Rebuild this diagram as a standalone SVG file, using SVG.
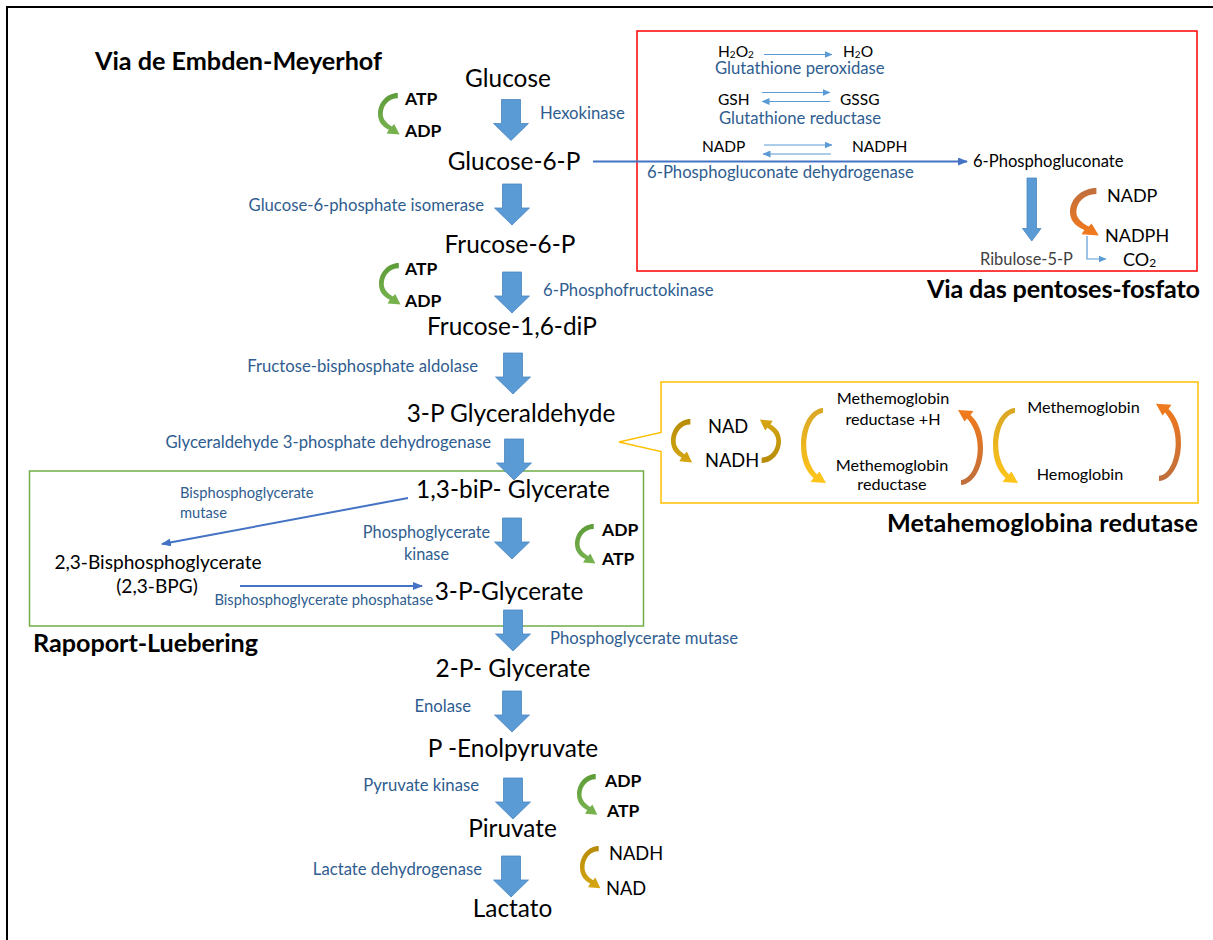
<svg xmlns="http://www.w3.org/2000/svg" width="1213" height="940" viewBox="0 0 1213 940">
<style>
text{font-family:Lato,"Liberation Sans",sans-serif}
.m{font-size:24.4px;fill:#000;text-anchor:middle}
.e{font-size:16.7px;fill:#2F5D90}
.b{font-size:17.5px;font-weight:bold;fill:#000}
.t{font-size:25.2px;font-weight:bold;fill:#000}
.s{font-size:15.5px;fill:#000}
.c{text-anchor:middle}
.blk{fill:#5B9BD5;stroke:#4A86C0;stroke-width:0.8}
.ln{stroke:#4472C4;stroke-width:2;fill:none}
.thin{stroke:#5B9BD5;stroke-width:1.2;fill:none}
</style>
<defs>
<path id="blk" d="M-9.5,0H9.5V24H17.5L0,41L-17.5,24H-9.5Z"/>
<path id="arcS" d="M22,0C10,0 0,9 0,20C0,27 4.5,32 12,35L9.5,38.5L24,39.5L18,29.5L15.5,32C9.5,29 5.3,25 5.3,20C5.3,12 12,5 22,5Z"/>
<path id="arcT" d="M22,0C9,1 0,18 0,37C0,53 5,63 12.5,70L9.5,74L25,75L18.5,63.5L16,66.5C10,60 5.3,50 5.3,37C5.3,21 12,6 22,5Z"/>
<linearGradient id="gG" x1="0" y1="0" x2="0" y2="1"><stop offset="0" stop-color="#5E9C3A"/><stop offset="1" stop-color="#78B34E"/></linearGradient>
<linearGradient id="gD" x1="0" y1="0" x2="0" y2="1"><stop offset="0" stop-color="#B68B08"/><stop offset="1" stop-color="#D6A612"/></linearGradient>
<linearGradient id="gY" x1="0" y1="0" x2="0" y2="1"><stop offset="0" stop-color="#D9A625"/><stop offset="1" stop-color="#FFC61A"/></linearGradient>
<linearGradient id="gO" x1="0" y1="0" x2="0" y2="1"><stop offset="0" stop-color="#BF6E3C"/><stop offset="1" stop-color="#F27A1C"/></linearGradient>
<marker id="mA" markerWidth="10" markerHeight="8" refX="9" refY="4" orient="auto" markerUnits="userSpaceOnUse"><path d="M0,0L10,4L0,8Z" fill="#4472C4"/></marker>
<marker id="mT" markerWidth="8" markerHeight="7" refX="7.5" refY="3.5" orient="auto" markerUnits="userSpaceOnUse"><path d="M0,0L8,3.5L0,7Z" fill="#5B9BD5"/></marker>
</defs>
<rect width="1213" height="940" fill="#fff"/>
<path d="M7,940V7H1213" fill="none" stroke="#000" stroke-width="2"/>

<g id="boxes">
<rect x="637" y="31" width="560" height="240" fill="none" stroke="#FF0000" stroke-width="1.5"/>
<rect x="29.5" y="471" width="614" height="155" fill="none" stroke="#70AD47" stroke-width="1.5"/>
<path d="M661,382H1198V503H661V451.5L619,442L661,432.5Z" fill="none" stroke="#FFC000" stroke-width="1.5"/>
</g>

<g id="connectors">
<use href="#blk" class="blk" x="511" y="99.5"/>
<use href="#blk" class="blk" x="512" y="184"/>
<use href="#blk" class="blk" x="512" y="272"/>
<use href="#blk" class="blk" x="513" y="353"/>
<use href="#blk" class="blk" x="514" y="439"/>
<use href="#blk" class="blk" x="512" y="518"/>
<use href="#blk" class="blk" x="513" y="610"/>
<use href="#blk" class="blk" x="512" y="691"/>
<use href="#blk" class="blk" x="513" y="778"/>
<use href="#blk" class="blk" x="511" y="856"/>
<path class="blk" d="M1027,178H1036.5V228.5H1041L1031.75,241L1022.5,228.5H1027Z"/>
<line class="ln" x1="593" y1="161.5" x2="967" y2="161.5" marker-end="url(#mA)"/>
<line class="ln" x1="408" y1="498" x2="162" y2="544" marker-end="url(#mA)"/>
<line class="ln" x1="240" y1="586" x2="422" y2="586" marker-end="url(#mA)"/>
<line class="thin" x1="764" y1="54.5" x2="832" y2="54.5" marker-end="url(#mT)"/>
<line class="thin" x1="762" y1="92.5" x2="830" y2="92.5" marker-end="url(#mT)"/>
<line class="thin" x1="830" y1="101.5" x2="762" y2="101.5" marker-end="url(#mT)"/>
<line class="thin" x1="764" y1="145" x2="832" y2="145" marker-end="url(#mT)"/>
<line class="thin" x1="831" y1="154" x2="763" y2="154" marker-end="url(#mT)"/>
<polyline class="thin" points="1087,236 1087,259 1106,259" marker-end="url(#mT)"/>
<use href="#arcS" fill="url(#gG)" transform="translate(378,93) scale(0.9,1.05)"/>
<use href="#arcS" fill="url(#gG)" transform="translate(379,263) scale(0.9,1.05)"/>
<use href="#arcS" fill="url(#gG)" transform="translate(575,524) scale(0.85,1)"/>
<use href="#arcS" fill="url(#gG)" transform="translate(577,774) scale(0.85,1.03)"/>
<use href="#arcS" fill="url(#gD)" transform="translate(580,846) scale(0.85,1.07)"/>
<use href="#arcS" fill="url(#gD)" transform="translate(671,419) scale(0.88,1.1)"/>
<use href="#arcS" fill="url(#gD)" transform="translate(781,463) rotate(180) scale(0.88,1.1)"/>
<use href="#arcT" fill="url(#gY)" transform="translate(801,408)"/>
<use href="#arcT" fill="url(#gO)" transform="translate(983,485) rotate(180)"/>
<use href="#arcT" fill="url(#gY)" transform="translate(993,408)"/>
<use href="#arcT" fill="url(#gO)" transform="translate(1181,481) rotate(180) scale(1,1.03)"/>
<use href="#arcS" fill="url(#gO)" transform="translate(1070,188) scale(1.2,1.2)"/>
</g>

<g id="titles">
<text class="t" x="95" y="70" textLength="287">Via de Embden-Meyerhof</text>
<text class="t" x="927" y="298" textLength="273">Via das pentoses-fosfato</text>
<text class="t" x="33" y="652" textLength="225">Rapoport-Luebering</text>
<text class="t" x="887" y="532" textLength="311">Metahemoglobina redutase</text>
</g>

<g id="n-glucose"><text class="m" x="508" y="87">Glucose</text></g>
<g id="n-atp1"><text class="b" x="405" y="105">ATP</text><text class="b" x="405" y="137">ADP</text></g>
<g id="e-hexokinase"><text class="e" x="540" y="119">Hexokinase</text></g>
<g id="n-g6p"><text class="m" x="514" y="170">Glucose-6-P</text></g>
<g id="e-gpi"><text class="e" x="484" y="211" text-anchor="end">Glucose-6-phosphate isomerase</text></g>
<g id="n-f6p"><text class="m" x="510" y="253">Frucose-6-P</text></g>
<g id="n-atp2"><text class="b" x="405" y="275">ATP</text><text class="b" x="405" y="307">ADP</text></g>
<g id="e-pfk"><text class="e" x="543" y="296">6-Phosphofructokinase</text></g>
<g id="n-f16"><text class="m" x="512" y="335">Frucose-1,6-diP</text></g>
<g id="e-aldolase"><text class="e" x="478" y="372" text-anchor="end">Fructose-bisphosphate aldolase</text></g>
<g id="n-g3p"><text class="m" x="511" y="422">3-P Glyceraldehyde</text></g>
<g id="e-gapdh"><text class="e" x="491" y="448" text-anchor="end">Glyceraldehyde 3-phosphate dehydrogenase</text></g>
<g id="n-13bpg"><text class="m" x="513" y="498">1,3-biP- Glycerate</text></g>
<g id="e-bpgm"><text class="e" x="180" y="498" style="font-size:14.7px">Bisphosphoglycerate</text><text class="e" x="180" y="518" style="font-size:14.7px">mutase</text></g>
<g id="e-pgk"><text class="e c" x="426.5" y="538" style="font-size:16.3px">Phosphoglycerate</text><text class="e c" x="426.5" y="560" style="font-size:16.3px">kinase</text></g>
<g id="n-adp3"><text class="b" x="602" y="536">ADP</text><text class="b" x="602" y="565">ATP</text></g>
<g id="n-23bpg"><text class="c" x="158" y="569" style="font-size:19.1px">2,3-Bisphosphoglycerate</text><text class="c" x="157" y="593" style="font-size:19.1px">(2,3-BPG)</text></g>
<g id="e-bpgp"><text class="e" x="214.5" y="605" style="font-size:14.7px">Bisphosphoglycerate phosphatase</text></g>
<g id="n-3pg"><text class="m" x="509" y="600">3-P-Glycerate</text></g>
<g id="e-pgm"><text class="e" x="550" y="644">Phosphoglycerate mutase</text></g>
<g id="n-2pg"><text class="m" x="513" y="677">2-P- Glycerate</text></g>
<g id="e-enolase"><text class="e" x="471" y="712" text-anchor="end">Enolase</text></g>
<g id="n-pep"><text class="m" x="513" y="757">P -Enolpyruvate</text></g>
<g id="e-pk"><text class="e" x="479" y="791" text-anchor="end">Pyruvate kinase</text></g>
<g id="n-adp4"><text class="b" x="605" y="787">ADP</text><text class="b" x="607" y="817">ATP</text></g>
<g id="n-piruvate"><text class="m" x="512.5" y="837">Piruvate</text></g>
<g id="e-ldh"><text class="e" x="482" y="875" text-anchor="end">Lactate dehydrogenase</text></g>
<g id="n-nadh"><text x="609" y="860" style="font-size:18.3px">NADH</text><text x="606" y="895" style="font-size:18.3px">NAD</text></g>
<g id="n-lactato"><text class="m" x="512.5" y="917">Lactato</text></g>

<g id="n-h2o2"><text class="s" x="718" y="57">H<tspan font-size="10" dy="1">2</tspan><tspan dy="-1">O</tspan><tspan font-size="10" dy="1">2</tspan></text></g>
<g id="n-h2o"><text class="s" x="843" y="57">H<tspan font-size="10" dy="1">2</tspan><tspan dy="-1">O</tspan></text></g>
<g id="e-gpx"><text class="e" x="715" y="74">Glutathione peroxidase</text></g>
<g id="n-gsh"><text class="s" x="718" y="105">GSH</text></g>
<g id="n-gssg"><text class="s" x="840" y="105">GSSG</text></g>
<g id="e-gr"><text class="e" x="719" y="124">Glutathione reductase</text></g>
<g id="n-nadp1"><text class="s" x="702" y="152">NADP</text></g>
<g id="n-nadph1"><text class="s" x="852" y="152">NADPH</text></g>
<g id="e-6pgd"><text class="e" x="647" y="178">6-Phosphogluconate dehydrogenase</text></g>
<g id="n-6pg"><text x="973" y="167" style="font-size:16.6px">6-Phosphogluconate</text></g>
<g id="n-ru5p"><text x="980" y="265" style="font-size:16.4px;fill:#404040">Ribulose-5-P</text></g>
<g id="n-nadp2"><text x="1107" y="202" style="font-size:18px">NADP</text><text x="1105" y="242" style="font-size:18px">NADPH</text></g>
<g id="n-co2"><text x="1123" y="266" style="font-size:18px">CO<tspan font-size="12" dy="1">2</tspan></text></g>

<g id="n-nad"><text x="708" y="433" style="font-size:18.3px">NAD</text><text x="705" y="467" style="font-size:18.3px">NADH</text></g>
<g id="n-mhbr-h"><text class="c" x="893" y="404" style="font-size:16.2px">Methemoglobin</text><text class="c" x="893" y="425" style="font-size:16.2px">reductase +H</text></g>
<g id="n-mhbr"><text class="c" x="892" y="471" style="font-size:16.2px">Methemoglobin</text><text class="c" x="892" y="490" style="font-size:16.2px">reductase</text></g>
<g id="n-methb"><text class="c" x="1083.5" y="413" style="font-size:16.2px">Methemoglobin</text></g>
<g id="n-hb"><text class="c" x="1080" y="480" style="font-size:16.2px">Hemoglobin</text></g>
</svg>
